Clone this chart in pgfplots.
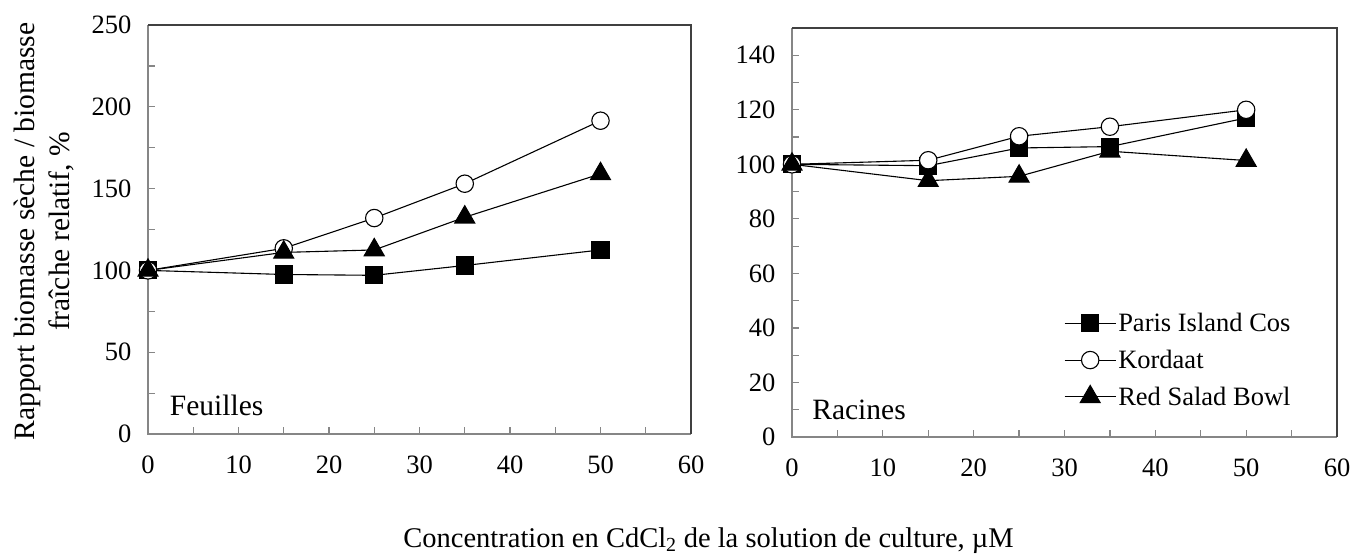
\documentclass[border=0pt]{standalone}
\usepackage{fontspec}
\setmainfont{Liberation Serif}
\usepackage{pgfplots}
\pgfplotsset{compat=1.18}
\definecolor{framegray}{HTML}{868686}
\definecolor{framedark}{HTML}{404040}
\newcommand\tfont{\fontsize{26.5}{30}\selectfont}
\newcommand\pfont{\fontsize{29.5}{34}\selectfont}
\begin{document}
\begin{tikzpicture}[x=1pt,y=1pt]
\useasboundingbox (0,0) rectangle (1354,555);
\pgfplotsset{
  myax/.style={
    scale only axis, anchor=south west,
    xmin=0, xmax=60, ymin=0,
    xtick={0,10,...,60}, minor x tick num=1, minor y tick num=1,
    tick align=inside, xtick pos=left, ytick pos=left,
    major tick length=7pt, minor tick length=7pt,
    every tick/.style={framegray, line width=1.2pt},
    axis line style={draw=none},
    tick label style={font=\tfont},
    /pgf/number format/assume math mode=true,
    xticklabel style={yshift=-18pt},
    yticklabel style={xshift=-13pt},
    clip=false,
  },
  psq/.style={black, line width=1.1pt, mark=square*, mark size=8.5pt, mark options={solid, fill=black}},
  pci/.style={black, line width=1.1pt, mark=*, mark size=8.7pt, mark options={solid, fill=white, draw=black, line width=1.1pt}},
  ptr/.style={black, line width=1.1pt, mark=triangle*, mark size=11.5pt, mark options={solid, fill=black}},
}
% Left panel: Feuilles
\begin{axis}[myax, at={(148pt,121pt)}, width=543pt, height=409pt,
  ymax=250, ytick={0,50,...,250}]
\addplot[psq] coordinates {(0,100) (15,97.5) (25,97) (35,103) (50,112.5)};
\addplot[pci] coordinates {(0,100) (15,113.5) (25,132) (35,153) (50,191.5)};
\addplot[ptr] coordinates {(0,100) (15,111) (25,112.5) (35,132.5) (50,159)};
\draw[framegray, line width=1.6pt] (rel axis cs:0,1) -- (rel axis cs:0,0) -- (rel axis cs:1,0);
\draw[framedark, line width=1.6pt] (rel axis cs:0,1) -- (rel axis cs:1,1) -- (rel axis cs:1,0);
\node[anchor=base west, inner sep=0pt, font=\pfont] at (rel axis cs:0.04,0.046) {Feuilles};
\end{axis}
% Right panel: Racines
\begin{axis}[myax, at={(792pt,118pt)}, width=545pt, height=409pt,
  ymax=150, ytick={0,20,...,140},
  legend cell align=left,
  legend image code/.code={\draw[#1, mark repeat=2, mark phase=2] plot coordinates {(0pt,0pt) (25.5pt,0pt) (51pt,0pt)};},
  legend style={at={(rel axis cs:0.499,0.308)}, anchor=north west, draw=none, fill=none,
    inner sep=0pt, font=\tfont, row sep=13pt,
    /tikz/every even column/.append style={column sep=5pt}}]
\addplot[psq] coordinates {(0,100) (15,99.5) (25,106) (35,106.5) (50,117)};
\addlegendentry{Paris Island Cos}
\addplot[pci] coordinates {(0,100) (15,101.5) (25,110.3) (35,113.8) (50,120)};
\addlegendentry{Kordaat}
\addplot[ptr] coordinates {(0,100) (15,94) (25,95.6) (35,104.8) (50,101.4)};
\addlegendentry{Red Salad Bowl}
\draw[framegray, line width=1.6pt] (rel axis cs:0,1) -- (rel axis cs:0,0) -- (rel axis cs:1,0);
\draw[framedark, line width=1.6pt] (rel axis cs:0,1) -- (rel axis cs:1,1) -- (rel axis cs:1,0);
\node[anchor=base west, inner sep=0pt, font=\pfont] at (rel axis cs:0.037,0.044) {Racines};
\end{axis}
\node[rotate=90, align=center, font=\fontsize{29.5}{35}\selectfont] at (44,323.5) {Rapport biomasse sèche / biomasse\\fraîche relatif, \%};
\node[anchor=base, inner sep=0pt, font=\fontsize{28.5}{34}\selectfont] at (708.5,8) {Concentration en CdCl\textsubscript{2} de la solution de culture, µM};
\end{tikzpicture}
\end{document}
